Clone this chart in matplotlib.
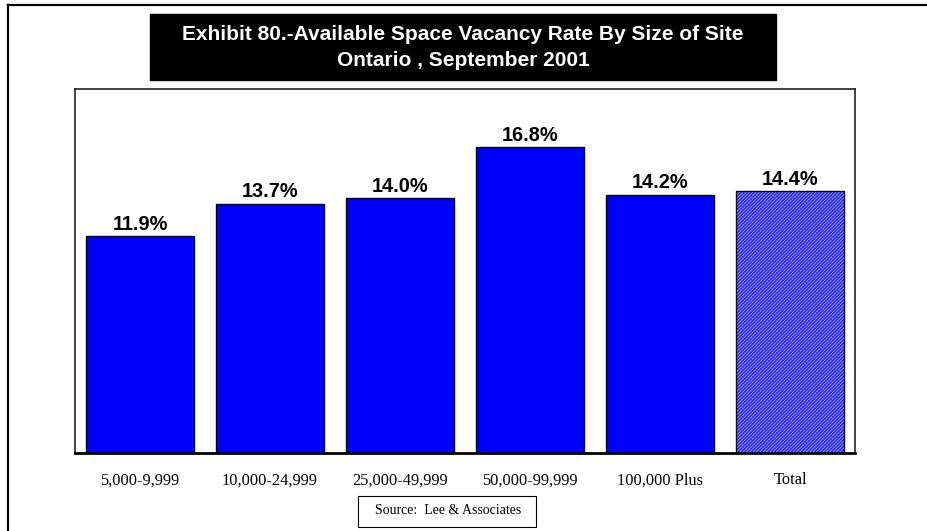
import matplotlib
matplotlib.use("Agg")
import matplotlib.pyplot as plt
from matplotlib.patches import Rectangle
from matplotlib.lines import Line2D

categories = ["5,000-9,999", "10,000-24,999", "25,000-49,999", "50,000-99,999", "100,000 Plus", "Total"]
vacancy = [11.9, 13.7, 14.0, 16.8, 14.2, 14.4]
title_lines = ["Exhibit 80.-Available Space Vacancy Rate By Size of Site", "Ontario , September 2001"]
source_text = "Source:  Lee & Associates"

plt.rcParams["hatch.linewidth"] = 1.2

W, H = 928, 531
fig = plt.figure(figsize=(W / 100, H / 100), dpi=100)
fig.patch.set_facecolor("white")

# outer frame (left and top edges visible)
fig.add_artist(Line2D([8 / W, 8 / W], [0, 1 - 5 / H], color="black", lw=1.6, transform=fig.transFigure))
fig.add_artist(Line2D([8 / W, 1], [1 - 5 / H, 1 - 5 / H], color="black", lw=1.6, transform=fig.transFigure))

ax = fig.add_axes([75 / W, 1 - 453 / H, 780 / W, 364 / H])
x = list(range(len(categories)))
width = 0.825

solid_x = x[:-1]
ax.bar(solid_x, vacancy[:-1], width=width, color="#0000ff", edgecolor="black", linewidth=1, zorder=2)
# hatched total bar
ax.bar(x[-1], vacancy[-1], width=width, color="#c8c8ff", edgecolor="#2020ff", hatch="//////////",
       linewidth=0, zorder=2)
ax.bar(x[-1], vacancy[-1], width=width, fill=False, edgecolor="black", linewidth=1, zorder=3)

for xi, v in zip(x, vacancy):
    ax.text(xi, v + 0.12, f"{v:.1f}%", ha="center", va="bottom", fontsize=14.4,
            fontweight="bold", family="Liberation Sans", zorder=4)

ax.set_xlim(-0.5, len(categories) - 0.5)
ax.set_ylim(0, 20)
ax.set_yticks([])
ax.set_xticks(x)
ax.set_xticklabels(categories, family="Liberation Serif", fontsize=11.8)
ax.tick_params(axis="x", length=0, pad=14)
for s in ["left", "top", "right"]:
    ax.spines[s].set_linewidth(1.2)
    ax.spines[s].set_color("#222222")
ax.spines["bottom"].set_linewidth(2)
ax.spines["bottom"].set_color("black")

# title box
fig.add_artist(Rectangle((150 / W, 1 - 80 / H), 626 / W, 66 / H, transform=fig.transFigure,
                         facecolor="black", edgecolor="black"))
fig.text(463 / W, 1 - 35 / H, title_lines[0], color="white", ha="center", va="center",
         fontsize=15, fontweight="bold", family="Liberation Sans")
fig.text(463 / W, 1 - 60 / H, title_lines[1], color="white", ha="center", va="center",
         fontsize=15, fontweight="bold", family="Liberation Sans")

# source box
fig.add_artist(Rectangle((358 / W, 1 - 527 / H), 178 / W, 31 / H, transform=fig.transFigure,
                         facecolor="white", edgecolor="black", lw=0.8))
fig.text(448 / W, 1 - 511 / H, source_text, ha="center", va="center", fontsize=10,
         family="Liberation Serif")

fig.savefig("out.png", dpi=100)
